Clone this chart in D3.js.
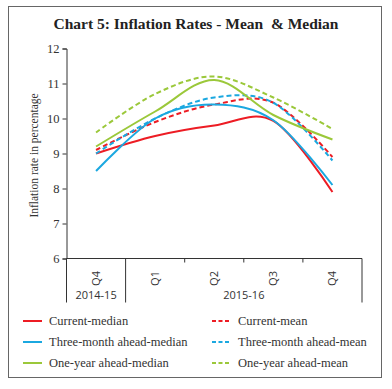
<!DOCTYPE html>
<html>
<head>
<meta charset="utf-8">
<script src="https://cdn.jsdelivr.net/npm/d3@7"></script>
<style>
  html, body { margin: 0; padding: 0; background: #fff; }
  svg { display: block; }
</style>
</head>
<body>
<div id="chart"></div>
<script>
// quarters (x axis) and year groups
const quarters = ["Q4", "Q1", "Q2", "Q3", "Q4"];
const years = [
  { label: "2014-15", from: 0, to: 0 },
  { label: "2015-16", from: 1, to: 4 }
];
const yTicks = [6, 7, 8, 9, 10, 11, 12];

// series values
const currentMedian = [9.0, 9.5, 9.8, 9.93, 7.9];
const currentMean = [9.1, 9.9, 10.4, 10.45, 8.9];
const threeMonthMedian = [8.5, 10.0, 10.4, 9.95, 8.1];
const threeMonthMean = [9.0, 10.0, 10.6, 10.45, 8.8];
const oneYearMedian = [9.2, 10.2, 11.1, 10.1, 9.4];
const oneYearMean = [9.6, 10.7, 11.2, 10.6, 9.7];

const series = [
  { name: "Current-median", values: currentMedian, color: "#ed1c24", dashed: false },
  { name: "Current-mean", values: currentMean, color: "#ed1c24", dashed: true },
  { name: "Three-month ahead-median", values: threeMonthMedian, color: "#1ba8e0", dashed: false },
  { name: "Three-month ahead-mean", values: threeMonthMean, color: "#1ba8e0", dashed: true },
  { name: "One-year ahead-median", values: oneYearMedian, color: "#9bc83a", dashed: false },
  { name: "One-year ahead-mean", values: oneYearMean, color: "#9bc83a", dashed: true }
];

const width = 392, height = 389;
const serif = "'Liberation Serif', 'DejaVu Serif', serif";
const sans = "'Open Sans', 'Liberation Sans', sans-serif";

const svg = d3.select("#chart").append("svg")
  .attr("width", width)
  .attr("height", height);

// outer frame
svg.append("rect")
  .attr("x", 8.5).attr("y", 6.5)
  .attr("width", 373).attr("height", 371)
  .attr("fill", "none")
  .attr("stroke", "#666")
  .attr("stroke-width", 1);

svg.append("text")
  .attr("x", 196).attr("y", 29)
  .attr("text-anchor", "middle")
  .style("font-family", serif)
  .style("font-weight", "bold")
  .style("font-size", "15.5px")
  .style("white-space", "pre")
  .attr("fill", "#222")
  .text("Chart 5: Inflation Rates - Mean  & Median");

const plot = { left: 66.5, right: 362, top: 48.5, bottom: 258.5 };

const x = d3.scaleBand()
  .domain(d3.range(quarters.length))
  .range([plot.left, plot.right])
  .padding(0);

const y = d3.scaleLinear()
  .domain([6, 12])
  .range([plot.bottom, plot.top]);

// y axis
const yAxis = svg.append("g")
  .attr("transform", `translate(${plot.left},0)`)
  .call(d3.axisLeft(y).tickValues(yTicks).tickFormat(d3.format("d")).tickSize(4).tickPadding(3));
yAxis.select(".domain").attr("stroke", "#333");
yAxis.selectAll(".tick line").attr("stroke", "#333");
yAxis.selectAll("text")
  .style("font-family", serif)
  .style("font-size", "12.5px")
  .attr("fill", "#333");

svg.append("text")
  .attr("transform", `translate(38,${(plot.top + plot.bottom) / 2 + 2}) rotate(-90)`)
  .attr("text-anchor", "middle")
  .style("font-family", serif)
  .style("font-size", "11.5px")
  .attr("fill", "#333")
  .text("Inflation rate in percentage");

// x axis
const xAxis = svg.append("g")
  .attr("transform", `translate(0,${plot.bottom})`);
xAxis.append("line")
  .attr("x1", plot.left).attr("x2", plot.right)
  .attr("stroke", "#333");

// short ticks between quarters inside a year
const innerTicks = [];
years.forEach(yr => {
  for (let i = yr.from + 1; i <= yr.to; i++) innerTicks.push(i);
});
xAxis.selectAll(".qtick")
  .data(innerTicks)
  .enter().append("line")
  .attr("x1", d => x(d)).attr("x2", d => x(d))
  .attr("y1", 0).attr("y2", 4)
  .attr("stroke", "#333");

// long dividers at year boundaries
const dividers = [plot.left].concat(years.map(yr => x(yr.to) + x.bandwidth()));
xAxis.selectAll(".divider")
  .data(dividers)
  .enter().append("line")
  .attr("x1", d => d).attr("x2", d => d)
  .attr("y1", 0).attr("y2", 44)
  .attr("stroke", "#333");

xAxis.selectAll(".qlabel")
  .data(quarters)
  .enter().append("text")
  .attr("transform", (d, i) => `translate(${x(i) + x.bandwidth() / 2 + 4},20) rotate(-90)`)
  .attr("text-anchor", "middle")
  .style("font-family", sans)
  .style("font-size", "11px")
  .attr("fill", "#333")
  .text(d => d);

xAxis.selectAll(".ylabel")
  .data(years)
  .enter().append("text")
  .attr("x", d => (x(d.from) + x(d.to) + x.bandwidth()) / 2)
  .attr("y", 40)
  .attr("text-anchor", "middle")
  .style("font-family", sans)
  .style("font-size", "11px")
  .attr("fill", "#333")
  .text(d => d.label);

// lines
const line = d3.line()
  .x((d, i) => x(i) + x.bandwidth() / 2)
  .y(d => y(d))
  .curve(d3.curveCardinal.tension(0));

svg.append("g").selectAll("path")
  .data(series)
  .enter().append("path")
  .attr("d", d => line(d.values))
  .attr("fill", "none")
  .attr("stroke", d => d.color)
  .attr("stroke-width", 2)
  .attr("stroke-dasharray", d => d.dashed ? "5,3" : null);

// legend
const legend = svg.append("g");
const item = legend.selectAll("g")
  .data(series)
  .enter().append("g")
  .attr("transform", (d, i) => `translate(${i % 2 === 0 ? 23 : 212},${321 + Math.floor(i / 2) * 21})`);

item.append("line")
  .attr("x1", 0).attr("x2", 19)
  .attr("stroke", d => d.color)
  .attr("stroke-width", 2)
  .attr("stroke-dasharray", d => d.dashed ? "4,2.5" : null);

item.append("text")
  .attr("x", 26).attr("y", 4)
  .style("font-family", serif)
  .style("font-size", "12.5px")
  .attr("fill", "#333")
  .text(d => d.name);
</script>
</body>
</html>
